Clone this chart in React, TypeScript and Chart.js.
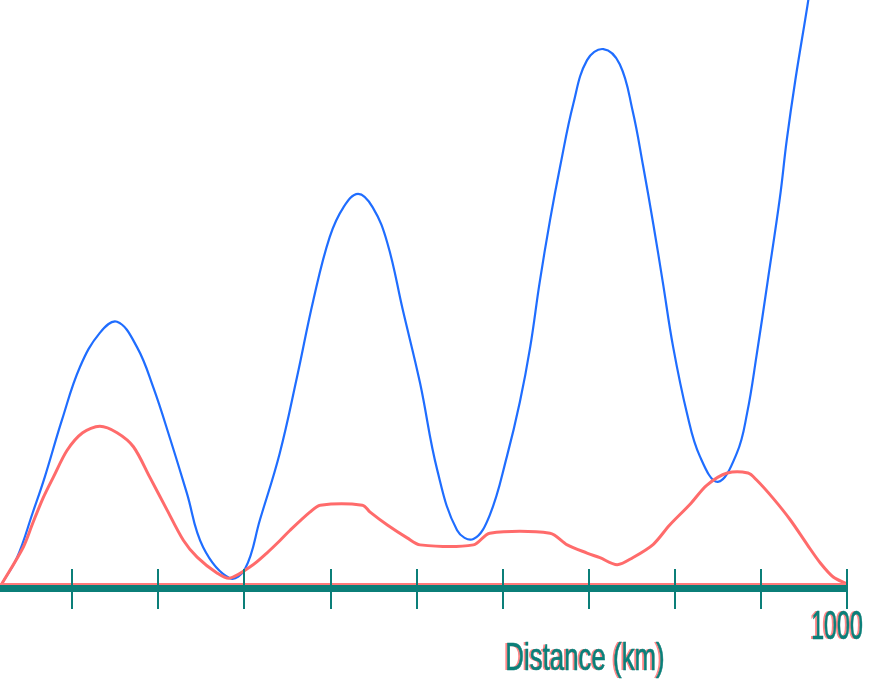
import React, { useEffect, useRef } from "react";
import { Chart, registerables } from "chart.js";

Chart.register(...registerables);

// Distance range shown on the horizontal axis (km)
const X_MIN = 16;
const X_MAX = 1000;
const Y_MAX = 1000;

// Axis ticks every 100 km; only the last one carries a label
const xTickValues = [100, 200, 300, 400, 500, 600, 700, 800, 900, 1000];
const xTickLabels = ["", "", "", "", "", "", "", "", "", "1000"];
const xAxisTitle = "Distance (km)";

// Blue profile
const blueDistance = [
  18, 36, 54, 68, 88, 109, 132, 152, 175, 194, 214, 233, 252, 283, 301,
  318, 341, 361, 380, 399, 415, 432, 449, 466, 484, 504, 524, 547, 566, 585,
  605, 620, 632, 643, 655, 667, 682, 698, 717, 736, 751, 763, 775, 786, 798,
  814, 829, 850, 872, 884, 895, 908, 922, 930, 940, 954, 958,
];
const blueValues = [
  0, 46, 122, 183, 281, 372, 430, 449, 406, 337, 247, 156, 63, 10, 27,
  110, 224, 354, 486, 594, 645, 668, 645, 584, 469, 344, 195, 92, 77, 118,
  219, 312, 406, 517, 623, 717, 822, 897, 916, 890, 810, 717, 616, 517, 406,
  293, 219, 175, 224, 293, 392, 520, 661, 760, 863, 990, 1030,
];

// Red profile
const redDistance = [
  18, 43, 54, 66, 78, 94, 112, 132, 152, 171, 190, 210, 229, 245, 268, 283,
  310, 326, 341, 353, 376, 388, 437, 446, 466, 489, 504, 566, 585, 655, 675,
  698, 713, 733, 751, 775, 794, 818, 837, 861, 885, 895, 914, 934, 954, 969,
  984, 1000,
];
const redValues = [
  0, 63, 104, 147, 183, 229, 259, 270, 259, 235, 183, 127, 75, 46, 19, 10,
  33, 53, 74, 92, 123, 135, 135, 123, 101, 79, 67, 67, 87, 87, 67,
  53, 45, 33, 45, 68, 101, 137, 169, 190, 190, 178, 147, 110, 67, 36,
  12, 0,
];

const AXIS_COLOR = "#0b7f79";
const AXIS_FRINGE = "rgba(255, 96, 96, 0.75)";
const BLUE = "#1f6dff";
const RED = "#ff6b6b";

const toPoints = (xs: number[], ys: number[]) =>
  xs.map((x, i) => ({ x, y: ys[i] }));

function drawNarrowText(
  ctx: CanvasRenderingContext2D,
  text: string,
  cx: number,
  baseline: number,
  sx: number,
  size: number
) {
  ctx.save();
  ctx.translate(cx, baseline);
  ctx.scale(sx, 1);
  ctx.font = `${size}px "Liberation Sans", Arial, sans-serif`;
  ctx.textAlign = "center";
  ctx.textBaseline = "alphabetic";
  ctx.fillStyle = AXIS_FRINGE;
  ctx.fillText(text, -2 / sx, 0);
  ctx.fillStyle = AXIS_COLOR;
  ctx.fillText(text, 0, 0);
  ctx.strokeStyle = AXIS_COLOR;
  ctx.lineWidth = 0.6;
  ctx.strokeText(text, 0, 0);
  ctx.restore();
}

// Draws the thick baseline, the cross ticks and the axis texts
const distanceAxisPlugin = {
  id: "distanceAxis",
  afterDatasetsDraw(chart: any) {
    const { ctx, chartArea } = chart;
    const x = chart.scales.x;
    const base = chartArea.bottom;
    const left = x.getPixelForValue(X_MIN);
    const right = x.getPixelForValue(X_MAX);

    ctx.save();
    ctx.fillStyle = "#ff7a7a";
    ctx.fillRect(left, base - 1, right - left + 1, 2);
    ctx.fillStyle = AXIS_COLOR;
    ctx.fillRect(left, base + 1, right - left + 1, 7);

    ctx.strokeStyle = AXIS_COLOR;
    ctx.lineWidth = 2;
    xTickValues.forEach((v) => {
      const px = Math.round(x.getPixelForValue(v));
      ctx.beginPath();
      ctx.moveTo(px, base - 15);
      ctx.lineTo(px, base + 25);
      ctx.stroke();
    });

    xTickValues.forEach((v, i) => {
      const label = xTickLabels[i];
      if (!label) return;
      drawNarrowText(ctx, label, x.getPixelForValue(v) - 10, base + 55, 0.58, 40);
    });

    drawNarrowText(ctx, xAxisTitle, 585, base + 86, 0.68, 38);
    ctx.restore();
  },
};

export default function App() {
  const canvasRef = useRef<HTMLCanvasElement | null>(null);

  useEffect(() => {
    const canvas = canvasRef.current;
    if (!canvas) return;
    const chart = new Chart(canvas, {
      type: "line",
      data: {
        datasets: [
          {
            label: "Red profile",
            data: toPoints(redDistance, redValues),
            borderColor: RED,
            borderWidth: 3,
            pointRadius: 0,
            tension: 0.3,
            fill: false,
          },
          {
            label: "Blue profile",
            data: toPoints(blueDistance, blueValues),
            borderColor: BLUE,
            borderWidth: 2.2,
            pointRadius: 0,
            tension: 0.4,
            fill: false,
          },
        ],
      },
      options: {
        responsive: false,
        devicePixelRatio: 1,
        animation: false,
        layout: { padding: { left: 0, top: 0, right: 22, bottom: 98 } },
        plugins: {
          legend: { display: false },
          tooltip: { enabled: false },
        },
        scales: {
          x: { type: "linear", display: false, min: X_MIN, max: X_MAX },
          y: { type: "linear", display: false, min: 0, max: Y_MAX },
        },
      },
      plugins: [distanceAxisPlugin],
    });
    return () => chart.destroy();
  }, []);

  return (
    <div
      style={{
        position: "absolute",
        left: 0,
        top: 0,
        width: 869,
        height: 682,
        background: "#ffffff",
      }}
    >
      <canvas ref={canvasRef} width={869} height={682} />
    </div>
  );
}
